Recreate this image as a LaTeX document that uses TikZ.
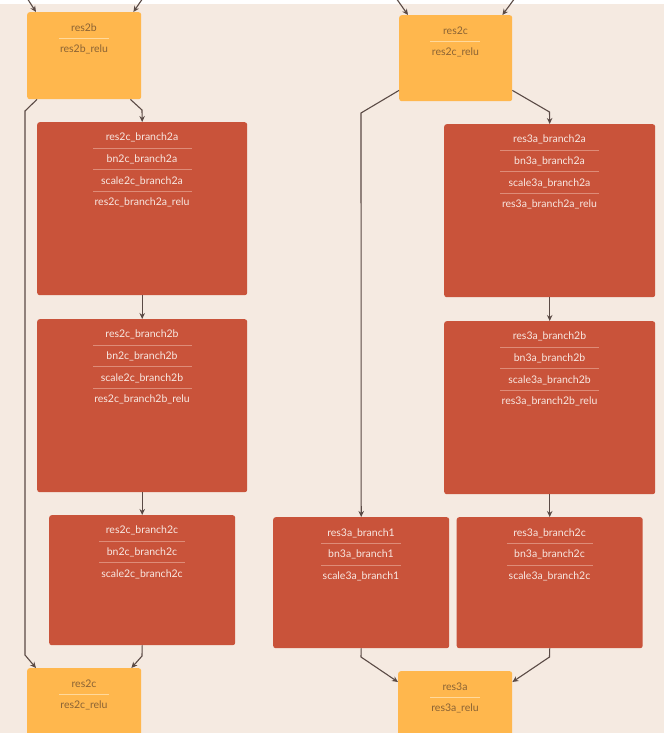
\documentclass[tikz,border=0pt]{standalone}
\usepackage{fontspec}
\setmainfont{Lato}
\usetikzlibrary{arrows.meta,calc}
\definecolor{bgc}{HTML}{F5EAE1}
\definecolor{orangef}{HTML}{FFB74D}
\definecolor{redf}{HTML}{C9533A}
\definecolor{otext}{HTML}{8A6335}
\definecolor{rtext}{HTML}{F8E8E2}
\definecolor{osep}{HTML}{FFD99C}
\definecolor{rsep}{HTML}{DE8C78}
\definecolor{edgec}{HTML}{5A4A45}
\tikzset{
  obox/.style={fill=orangef, rounded corners=2.5pt, anchor=north west, inner sep=0pt, draw=none},
  rbox/.style={fill=redf, rounded corners=2.5pt, anchor=north west, inner sep=0pt, draw=none},
  otxt/.style={text=otext, font=\fontsize{10.5}{12}\selectfont, inner sep=0pt, text height=7.5pt, text depth=2pt, yshift=-2pt},
  rtxt/.style={text=rtext, font=\fontsize{10.5}{12}\selectfont, inner sep=0pt, text height=7.5pt, text depth=2pt, yshift=-2pt},
  osepl/.style={draw=osep, line width=0.8pt},
  rsepl/.style={draw=rsep, line width=0.8pt},
  edge/.style={draw=edgec, line width=1.1pt, -{Stealth[length=6pt,width=5.5pt]}}
}
\begin{document}
\begin{tikzpicture}[x=1pt,y=-1pt]
\useasboundingbox (0,0) rectangle (664,733);
\clip (0,0) rectangle (664,733);
\fill[bgc] (0,0) rectangle (664,733);
\fill[white] (0,0) rectangle (664,4);
% orange boxes
\node[obox, minimum width=114pt, minimum height=87pt] (o1) at (27,12) {};
\node[obox, minimum width=113pt, minimum height=86pt] (o2) at (399,15) {};
\node[obox, minimum width=114pt, minimum height=90pt] (o3) at (27,668) {};
\node[obox, minimum width=114pt, minimum height=90pt] (o4) at (398,671) {};
% red boxes
\node[rbox, minimum width=210pt, minimum height=173pt] (r1) at (37,122) {};
\node[rbox, minimum width=210pt, minimum height=173pt] (r2) at (37,319) {};
\node[rbox, minimum width=186pt, minimum height=130pt] (r3) at (49,515) {};
\node[rbox, minimum width=211pt, minimum height=173pt] (r4) at (444,124) {};
\node[rbox, minimum width=211pt, minimum height=173pt] (r5) at (444,321) {};
\node[rbox, minimum width=176pt, minimum height=131pt] (r6) at (273,517) {};
\node[rbox, minimum width=186pt, minimum height=131pt] (r7) at (456.5,517) {};
% orange texts
\node[otxt] (o1a) at (84,27) {res2b};
\draw[osepl] (59,38) -- (109,38);
\node[otxt] (o1b) at (84,48) {res2b\_relu};
\node[otxt] (o2a) at (455.5,30) {res2c};
\draw[osepl] (430,41) -- (480,41);
\node[otxt] (o2b) at (455.5,51) {res2c\_relu};
\node[otxt] (o3a) at (84,683) {res2c};
\draw[osepl] (59,694) -- (109,694);
\node[otxt] (o3b) at (84,704) {res2c\_relu};
\node[otxt] (o4a) at (455,686) {res3a};
\draw[osepl] (430,697) -- (480,697);
\node[otxt] (o4b) at (455,707) {res3a\_relu};
% r1
\node[rtxt] (r1a) at (142,136) {res2c\_branch2a};
\draw[rsepl] (93,148) -- (192,148);
\node[rtxt] (r1b) at (142,158) {bn2c\_branch2a};
\draw[rsepl] (93,169) -- (192,169);
\node[rtxt] (r1c) at (142,180) {scale2c\_branch2a};
\draw[rsepl] (93,191) -- (192,191);
\node[rtxt] (r1d) at (142,201) {res2c\_branch2a\_relu};
% r2
\node[rtxt] (r2a) at (142,333) {res2c\_branch2b};
\draw[rsepl] (93,345) -- (192,345);
\node[rtxt] (r2b) at (142,355) {bn2c\_branch2b};
\draw[rsepl] (93,366) -- (192,366);
\node[rtxt] (r2c) at (142,377) {scale2c\_branch2b};
\draw[rsepl] (93,388) -- (192,388);
\node[rtxt] (r2d) at (142,398) {res2c\_branch2b\_relu};
% r3
\node[rtxt] (r3a) at (142,529) {res2c\_branch2c};
\draw[rsepl] (99,541) -- (185,541);
\node[rtxt] (r3b) at (142,551) {bn2c\_branch2c};
\draw[rsepl] (99,562) -- (185,562);
\node[rtxt] (r3c) at (142,573) {scale2c\_branch2c};
% r4
\node[rtxt] (r4a) at (549.5,138) {res3a\_branch2a};
\draw[rsepl] (500,150) -- (599,150);
\node[rtxt] (r4b) at (549.5,160) {bn3a\_branch2a};
\draw[rsepl] (500,171) -- (599,171);
\node[rtxt] (r4c) at (549.5,182) {scale3a\_branch2a};
\draw[rsepl] (500,193) -- (599,193);
\node[rtxt] (r4d) at (549.5,203) {res3a\_branch2a\_relu};
% r5
\node[rtxt] (r5a) at (549.5,335) {res3a\_branch2b};
\draw[rsepl] (500,347) -- (599,347);
\node[rtxt] (r5b) at (549.5,357) {bn3a\_branch2b};
\draw[rsepl] (500,368) -- (599,368);
\node[rtxt] (r5c) at (549.5,379) {scale3a\_branch2b};
\draw[rsepl] (500,390) -- (599,390);
\node[rtxt] (r5d) at (549.5,400) {res3a\_branch2b\_relu};
% r6
\node[rtxt] (r6a) at (361,532) {res3a\_branch1};
\draw[rsepl] (321,543) -- (401,543);
\node[rtxt] (r6b) at (361,553) {bn3a\_branch1};
\draw[rsepl] (321,565) -- (401,565);
\node[rtxt] (r6c) at (361,575) {scale3a\_branch1};
% r7
\node[rtxt] (r7a) at (549.5,532) {res3a\_branch2c};
\draw[rsepl] (506.5,543) -- (592.5,543);
\node[rtxt] (r7b) at (549.5,553) {bn3a\_branch2c};
\draw[rsepl] (506.5,565) -- (592.5,565);
\node[rtxt] (r7c) at (549.5,575) {scale3a\_branch2c};
% free ends
\coordinate (in1) at (27,-2);
\coordinate (in2) at (143,-2);
\coordinate (in3) at (396,-2);
\coordinate (in4) at (515,-2);
% edges
\draw[edge] (in1) -- ($(o1.north west)+(9,0)$);
\draw[edge] (in2) -- ($(o1.north east)+(-8,0)$);
\draw[edge] (in3) -- ($(o2.north west)+(9,0)$);
\draw[edge] (in4) -- ($(o2.north east)+(-10,0)$);
\draw[edge] ($(o1.south east)+(-11,0)$) -- (142,110) -- (r1.north);
\draw[edge] ($(o1.south west)+(10,0)$) -- (25,111) -- (25,655) -- ($(o3.north west)+(9,0)$);
\draw[edge] (r1.south) -- (r2.north);
\draw[edge] (r2.south) -- (r3.north);
\draw[edge] (r3.south) -- (142,656) -- ($(o3.north east)+(-10,0)$);
\draw[edge] ($(o2.south west)+(0,-11)$) -- (361,113) -- (r6.north);
\draw[edge] ($(o2.south east)+(0,-11)$) -- (549.5,112) -- (r4.north);
\draw[edge] (r4.south) -- (r5.north);
\draw[edge] (r5.south) -- (r7.north);
\draw[edge] (r6.south) -- (361,657) -- ($(o4.north west)+(0,11)$);
\draw[edge] (r7.south) -- (549.5,657) -- ($(o4.north east)+(0,11)$);
\end{tikzpicture}
\end{document}
